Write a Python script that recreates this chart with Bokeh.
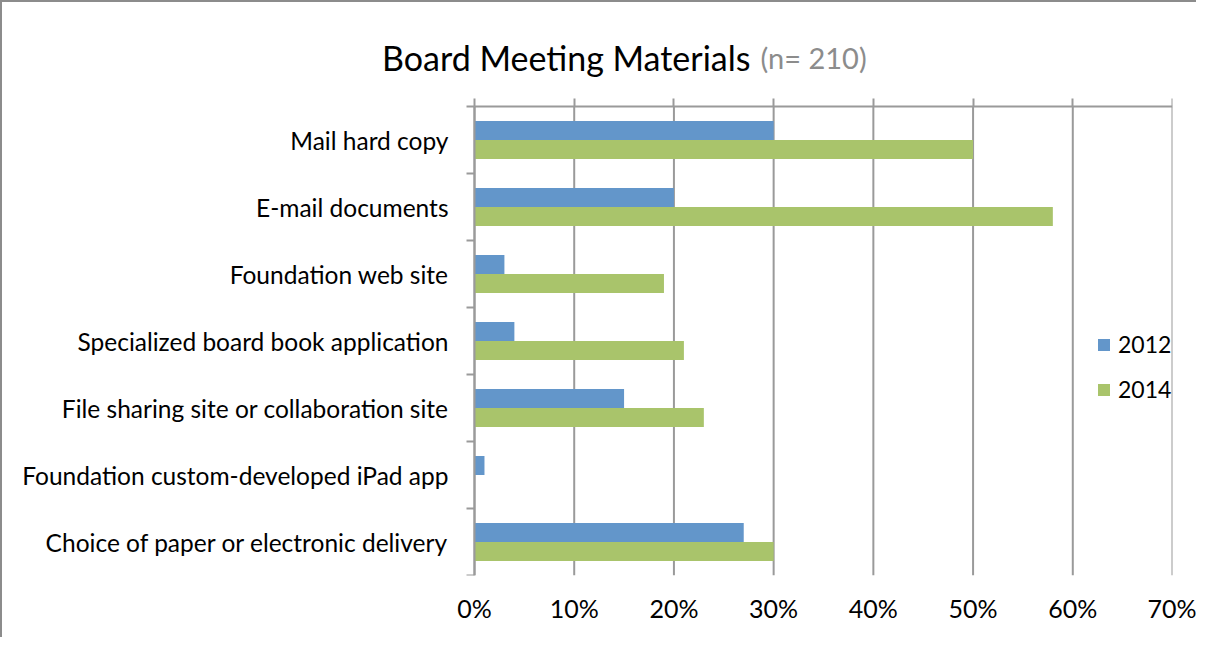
from bokeh.plotting import figure
from bokeh.core.properties import value
from bokeh.models import Range1d, FixedTicker, LinearAxis, PrintfTickFormatter, Legend, LegendItem, ColumnDataSource
from bokeh.embed import file_html
from bokeh.resources import INLINE

categories = [
    "Mail hard copy",
    "E-mail documents",
    "Foundation web site",
    "Specialized board book application",
    "File sharing site or collaboration site",
    "Foundation custom-developed iPad app",
    "Choice of paper or electronic delivery",
]
values_2012 = [30, 20, 3, 4, 15, 1, 27]
values_2014 = [50, 58, 19, 21, 23, 0, 30]
series_names = ["2012", "2014"]
x_ticks = [0, 10, 20, 30, 40, 50, 60, 70]
title_main = "Board Meeting Materials"
title_note = "(n= 210)"

BLUE = "#6396CA"
GREEN = "#A9C46B"
GRID = "#9A9A9A"
FONT = "Lato"
X_MAX = 70

n = len(categories)
centers = [i + 0.5 for i in range(n)]
bounds = [float(i) for i in range(n + 1)]
bar_h = 0.284

# layout constants (pixels)
W, H = 1196, 637
MB_L, MB_R, MB_T, MB_B = 12, 26, 18, 64
FRAME_W = W - MB_L - MB_R
FRAME_H = H - MB_T - MB_B
ZERO_PX = 460                 # distance from frame left to the 0% line (room for category labels)
HEADER_PX = 86                # header height above the category area, inside the frame
px_per_x = (FRAME_W - ZERO_PX) / X_MAX
x_start = -ZERO_PX / px_per_x
band_units = n * FRAME_H / (FRAME_H - HEADER_PX)
y_top = n - band_units
px_per_y = FRAME_H / band_units

title_y = -49 / px_per_y
title_x_main = 276 / px_per_x
title_x_note = 286 / px_per_x

src = ColumnDataSource(dict(
    y12=[c - bar_h / 2 for c in centers],
    y14=[c + bar_h / 2 for c in centers],
    v12=values_2012,
    v14=values_2014,
))
grid_src = ColumnDataSource(dict(x=x_ticks, y0=[0] * len(x_ticks), y1=[n] * len(x_ticks)))
cat_src = ColumnDataSource(dict(y=centers, x=[0] * n, label=categories))

p = figure(width=W, height=H, output_backend="svg", toolbar_location=None,
           x_range=Range1d(x_start, X_MAX), y_range=Range1d(n, y_top),
           min_border_left=MB_L, min_border_right=MB_R, min_border_top=MB_T, min_border_bottom=MB_B)
p.outline_line_color = None
p.background_fill_color = "white"
p.border_fill_color = "white"
p.styles = {"border-left": "2px solid #8C8C8C", "border-top": "2px solid #8C8C8C"}
p.grid.visible = False

# vertical gridlines, limited to the category area
p.segment(x0="x", y0="y0", x1="x", y1="y1", source=grid_src, line_color=GRID, line_width=2)

r12 = p.hbar(y="y12", right="v12", left=0, height=bar_h, source=src, color=BLUE, line_color=None)
r14 = p.hbar(y="y14", right="v14", left=0, height=bar_h, source=src, color=GREEN, line_color=None)

# category labels
p.text(x="x", y="y", text="label", source=cat_src, x_offset=-26, text_align="right",
       text_baseline="middle", text_font=value(FONT), text_font_size="24.5px", text_color="black")

# title texts
p.text(x=[title_x_main], y=[title_y], text=[title_main], text_align="right", text_baseline="alphabetic",
       text_font=value(FONT), text_font_size="34px", text_color="black")
p.text(x=[title_x_note], y=[title_y], text=[title_note], text_align="left", text_baseline="alphabetic",
       text_font=value(FONT), text_font_size="29px", text_color="#8C8C8C")

# bottom axis: labels only
xa = p.xaxis[0]
xa.ticker = FixedTicker(ticks=x_ticks)
xa.formatter = PrintfTickFormatter(format="%d%%")
xa.axis_line_color = None
xa.major_tick_line_color = None
xa.minor_tick_line_color = None
xa.major_tick_out = 0
xa.major_label_standoff = 17
xa.major_label_text_font = FONT
xa.major_label_text_font_size = "25px"
xa.major_label_text_color = "black"

# top value-axis line with outward ticks, fixed at the top of the category area
ta = LinearAxis(ticker=FixedTicker(ticks=x_ticks), fixed_location=0, bounds=(0, X_MAX))
ta.axis_line_color = GRID
ta.axis_line_width = 2
ta.major_tick_line_color = GRID
ta.major_tick_line_width = 2
ta.major_tick_out = 8
ta.major_tick_in = 0
ta.minor_tick_line_color = None
ta.major_label_text_alpha = 0
ta.major_label_text_font_size = "1px"
ta.major_label_standoff = 0
p.add_layout(ta, "above")

# category axis line + boundary ticks, fixed at the 0% line
ya = p.yaxis[0]
ya.fixed_location = 0
ya.bounds = (0, n)
ya.ticker = FixedTicker(ticks=[], minor_ticks=bounds)
ya.major_tick_line_color = None
ya.major_tick_out = 0
ya.major_tick_in = 0
ya.minor_tick_line_color = GRID
ya.minor_tick_line_width = 2
ya.minor_tick_out = 8
ya.minor_tick_in = 0
ya.axis_line_color = GRID
ya.axis_line_width = 2
ya.major_label_standoff = 0
ya.major_label_text_alpha = 0
ya.major_label_text_font_size = "1px"

legend = Legend(items=[LegendItem(label=series_names[0], renderers=[r12]),
                       LegendItem(label=series_names[1], renderers=[r14])],
                location=(ZERO_PX + 622, 172))
legend.border_line_color = None
legend.background_fill_alpha = 0
legend.padding = 0
legend.margin = 0
legend.spacing = 17
legend.glyph_width = 15
legend.glyph_height = 15
legend.label_height = 25
legend.label_text_font = FONT
legend.label_text_font_size = "23px"
legend.label_text_color = "black"
legend.label_standoff = 7
p.add_layout(legend, "center")

open("out.html", "w").write(file_html(p, INLINE))
